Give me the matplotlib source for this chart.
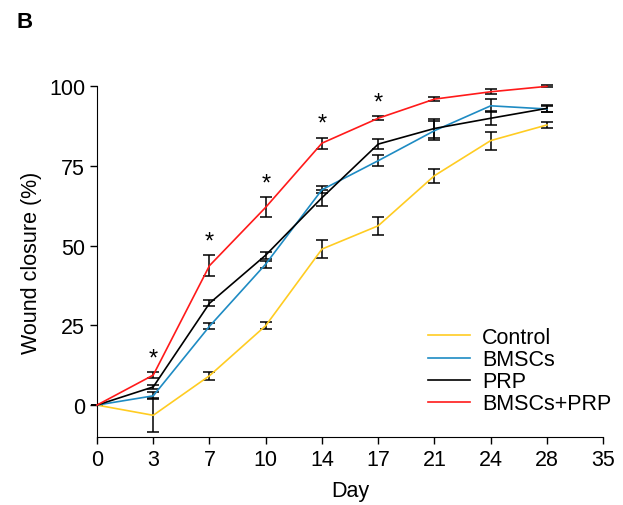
import matplotlib.pyplot as plt

plt.rcParams['font.family'] = ['Liberation Sans', 'DejaVu Sans']

# Days shown as evenly spaced categories
day_labels = ['0', '3', '7', '10', '14', '17', '21', '24', '28', '35']
days = ['0', '3', '7', '10', '14', '17', '21', '24', '28']

control = [0, -3.2, 9.2, 24.9, 48.9, 56.2, 71.9, 82.9, 87.8]
control_err = [0, 5.3, 1.3, 1.2, 2.8, 2.9, 2.2, 2.8, 1.0]
bmscs = [0, 2.9, 24.7, 44.2, 67.5, 76.6, 86.0, 93.8, 92.8]
bmscs_err = [0, 1.1, 1.0, 1.1, 1.1, 1.7, 3.0, 2.0, 1.0]
prp = [0, 5.7, 31.9, 47.0, 65.0, 81.8, 86.7, 89.9, 93.0]
prp_err = [0, 0.7, 1.0, 1.1, 2.5, 1.5, 3.0, 2.2, 1.0]
combo = [0, 9.4, 43.7, 62.0, 82.1, 89.9, 95.9, 98.2, 99.9]
combo_err = [0, 1.0, 3.2, 3.1, 1.7, 0.6, 0.6, 0.8, 0.3]
star_days = [1, 2, 3, 4, 5]  # index positions with significance marks

series = [
    ('Control', control, control_err, '#FFCC22'),
    ('BMSCs', bmscs, bmscs_err, '#1E8BC3'),
    ('PRP', prp, prp_err, 'black'),
    ('BMSCs+PRP', combo, combo_err, '#FF1A1A'),
]

fs = 15.5

fig = plt.figure(figsize=(6.23, 5.06), dpi=100)
ax = fig.add_axes([0.1557, 0.1344, 0.8125, 0.6936])

x = list(range(len(days)))
for name, vals, err, col in series:
    ax.errorbar(x, vals, yerr=err, fmt='none', ecolor='black', elinewidth=1.1,
                capsize=4.5, capthick=1.1, zorder=2, clip_on=False)
for name, vals, err, col in series:
    ax.plot(x, vals, color=col, lw=1.2, label=name, zorder=3, clip_on=False)

for i in star_days:
    ax.annotate('*', (i, combo[i] + combo_err[i]), xytext=(0, 2),
                textcoords='offset points', ha='center', va='bottom', fontsize=17)

ax.set_xlim(0, 9)
ax.set_ylim(-10, 100)
ax.set_xticks(range(len(day_labels)))
ax.set_xticklabels(day_labels)
ax.set_yticks([0, 25, 50, 75, 100])
ax.tick_params(labelsize=fs, length=5, width=1)
ax.tick_params(axis='x', pad=4)
ax.spines['top'].set_visible(False)
ax.spines['right'].set_visible(False)
ax.set_xlabel('Day', fontsize=fs, labelpad=7)
ax.set_ylabel('Wound closure (%)', fontsize=fs, labelpad=5)

ax.legend(loc='upper left', bbox_to_anchor=(428 / 623, 1 - 328 / 506),
          bbox_transform=fig.transFigure, frameon=False, borderpad=0,
          borderaxespad=0, fontsize=fs, handlelength=1.95, labelspacing=0.05,
          handletextpad=0.55)

fig.text(0.027, 0.955, 'B', fontsize=16, fontweight='bold', va='center')

fig.savefig('out.png', dpi=100)
